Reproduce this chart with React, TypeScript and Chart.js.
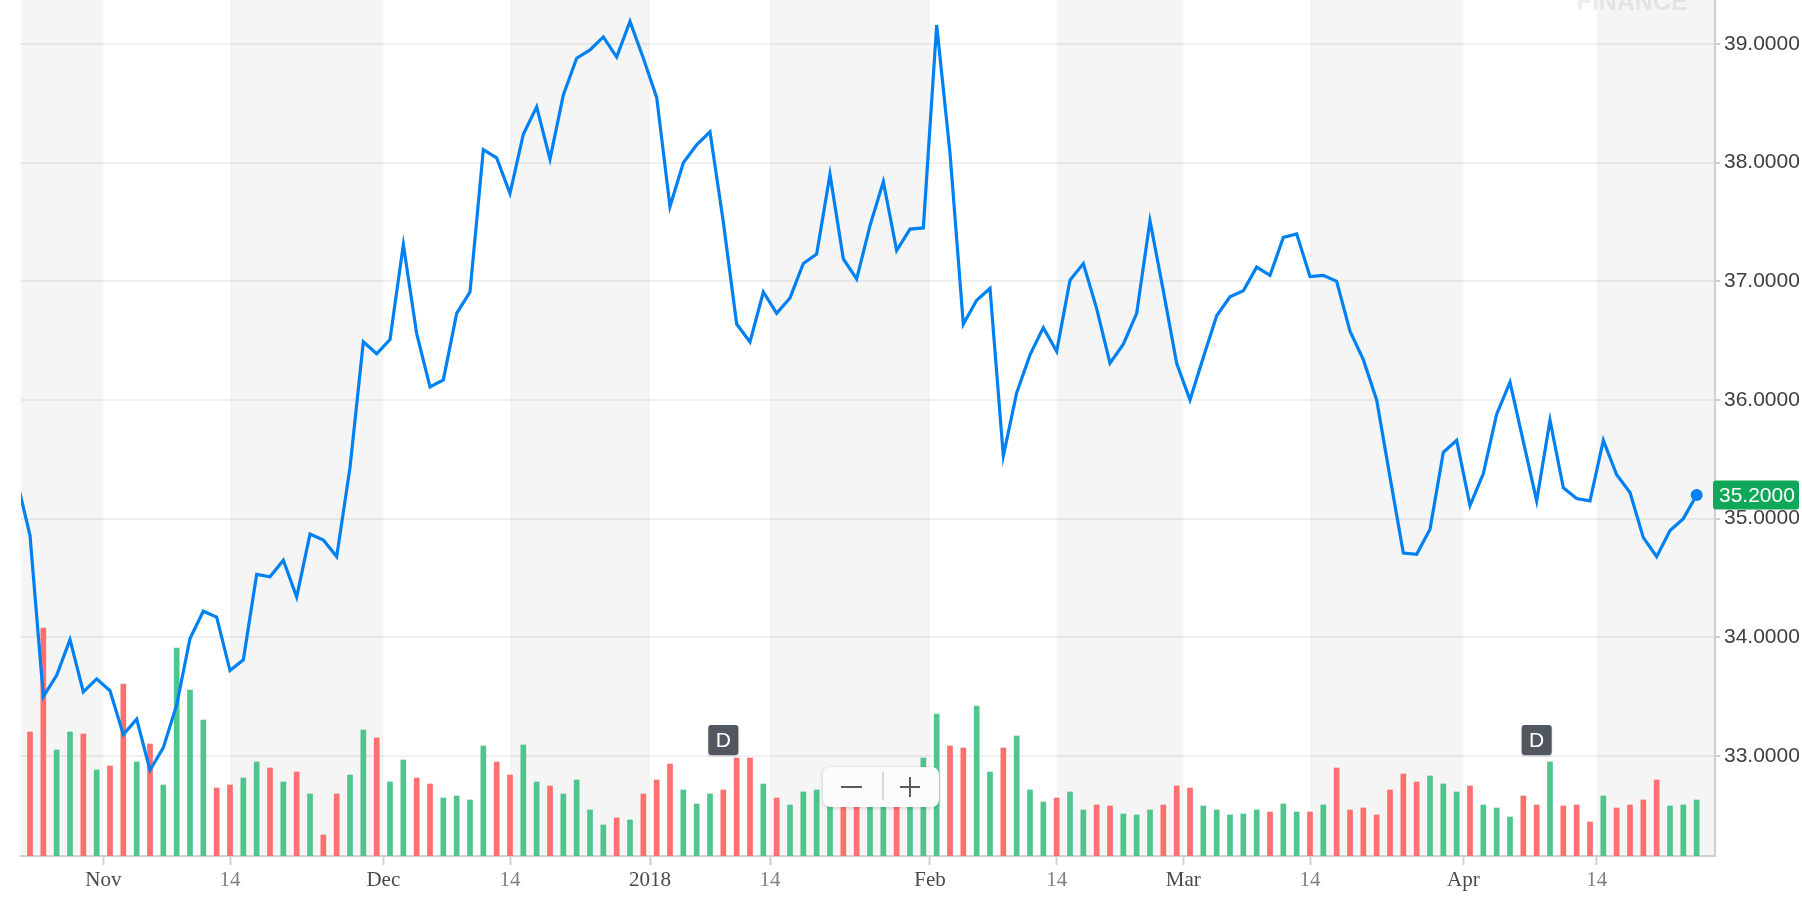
import React, { useEffect, useRef } from "react";
import { Chart, registerables } from "chart.js";

Chart.register(...registerables);

// ---------- data ----------
// close of the trading day just before the visible window (line enters from the left edge)
const priceBeforeStart = 35.33;

// daily closes, one per trading day (Oct 24 2017 .. Apr 25 2018)
const closePrices = [
  34.86, 33.5, 33.68, 33.98, 33.54, 33.65, 33.55, 33.18, 33.31, 32.88,
  33.07, 33.43, 33.99, 34.22, 34.17, 33.72, 33.81, 34.53, 34.51, 34.65,
  34.34, 34.87, 34.82, 34.68, 35.43, 36.49, 36.39, 36.51, 37.31, 36.56,
  36.11, 36.17, 36.73, 36.91, 38.11, 38.04, 37.74, 38.24, 38.47, 38.03,
  38.57, 38.88, 38.95, 39.06, 38.89, 39.19, 38.88, 38.55, 37.63, 38.0,
  38.15, 38.26, 37.5, 36.64, 36.49, 36.91, 36.73, 36.86, 37.15, 37.23,
  37.9, 37.19, 37.02, 37.47, 37.84, 37.26, 37.44, 37.45, 39.16, 38.08,
  36.64, 36.84, 36.94, 35.53, 36.06, 36.38, 36.61, 36.41, 37.01, 37.15,
  36.77, 36.31, 36.47, 36.73, 37.51, 36.92, 36.31, 36.0, 36.36, 36.71,
  36.87, 36.92, 37.12, 37.05, 37.37, 37.4, 37.04, 37.05, 37.0, 36.58,
  36.34, 36.0, 35.35, 34.71, 34.7, 34.91, 35.56, 35.66, 35.11, 35.38,
  35.88, 36.15, 35.65, 35.15, 35.83, 35.26, 35.17, 35.15, 35.66, 35.37,
  35.22, 34.84, 34.68, 34.9, 35.0, 35.2,
];

// daily volume (millions)
const volumes = [
  6.2, 11.4, 5.3, 6.2, 6.1, 4.3, 4.5, 8.6, 4.7, 5.6,
  3.55, 10.4, 8.3, 6.8, 3.4, 3.55, 3.9, 4.7, 4.4, 3.7,
  4.2, 3.1, 1.05, 3.1, 4.05, 6.3, 5.9, 3.7, 4.8, 3.9,
  3.6, 2.9, 3.0, 2.8, 5.5, 4.7, 4.05, 5.55, 3.7, 3.5,
  3.1, 3.8, 2.3, 1.55, 1.9, 1.8, 3.1, 3.8, 4.6, 3.3,
  2.6, 3.1, 3.3, 4.9, 4.9, 3.6, 2.9, 2.55, 3.2, 3.3,
  3.2, 2.9, 2.9, 3.0, 3.1, 3.0, 3.3, 4.9, 7.1, 5.5,
  5.4, 7.5, 4.2, 5.4, 6.0, 3.3, 2.7, 2.9, 3.2, 2.3,
  2.55, 2.5, 2.1, 2.05, 2.3, 2.55, 3.5, 3.4, 2.5, 2.3,
  2.05, 2.1, 2.3, 2.2, 2.6, 2.2, 2.2, 2.55, 4.4, 2.3,
  2.4, 2.05, 3.3, 4.1, 3.7, 4.0, 3.6, 3.2, 3.5, 2.55,
  2.4, 1.95, 3.0, 2.55, 4.7, 2.5, 2.55, 1.7, 3.0, 2.4,
  2.55, 2.8, 3.8, 2.5, 2.55, 2.8,
];

// x-axis ticks, in trading-day index units (month starts fall between two days)
const xTickPositions = [5.5, 15, 26.5, 36, 46.5, 55.5, 67.5, 77, 86.5, 96, 107.5, 117.5];
const xTickLabels = ["Nov", "14", "Dec", "14", "2018", "14", "Feb", "14", "Mar", "14", "Apr", "14"];

// price axis ticks
const yTickValues = [33, 34, 35, 36, 37, 38, 39];

// dividend markers (trading-day index)
const dividendDays = [52, 113];

// ---------- axis ranges ----------
const X_MIN = -0.675;
const X_MAX = 126.375;
const Y_MIN = 32.157;
const Y_MAX = 39.371;
const VOL_MAX = 42.8;

const BLUE = "#0081f2";
const GREEN = "#4cc68d";
const RED = "#ff6f6f";

const overlayPlugin = {
  id: "yahooOverlay",
  beforeDraw(chart: any) {
    const { ctx, chartArea, scales } = chart;
    const xs = scales.x;
    const bounds = [X_MIN, ...xTickPositions, X_MAX];
    ctx.save();
    for (let i = 0; i < bounds.length - 1; i += 2) {
      const a = xs.getPixelForValue(bounds[i]);
      const b = xs.getPixelForValue(bounds[i + 1]);
      ctx.fillStyle = "#f5f5f5";
      ctx.fillRect(a, chartArea.top, b - a, chartArea.bottom - chartArea.top);
    }
    // faint watermark at the top
    ctx.fillStyle = "rgba(0,0,0,0.07)";
    ctx.font = "bold 25px 'Liberation Sans', Arial, sans-serif";
    ctx.textAlign = "center";
    ctx.textBaseline = "alphabetic";
    ctx.fillText("FINANCE", 1632, 10);
    ctx.restore();
  },
  afterDatasetsDraw(chart: any) {
    const { ctx, chartArea, scales } = chart;
    const xs = scales.x;
    ctx.save();
    // dividend markers
    for (const d of dividendDays) {
      const cx = xs.getPixelForValue(d);
      const top = chartArea.bottom - 131;
      ctx.shadowColor = "rgba(0,0,0,0.25)";
      ctx.shadowBlur = 2;
      ctx.shadowOffsetY = 1;
      ctx.fillStyle = "#51575f";
      ctx.beginPath();
      ctx.roundRect(cx - 15, top, 30, 30, 3);
      ctx.fill();
      ctx.shadowColor = "transparent";
      ctx.fillStyle = "#ffffff";
      ctx.font = "21px 'Liberation Sans', Arial, sans-serif";
      ctx.textAlign = "center";
      ctx.textBaseline = "middle";
      ctx.fillText("D", cx, top + 16);
    }
    ctx.restore();
  },
  afterDraw(chart: any) {
    const { ctx, chartArea, scales } = chart;
    const ys = scales.y;
    ctx.save();
    // last price label
    const last = closePrices[closePrices.length - 1];
    const py = ys.getPixelForValue(last);
    ctx.fillStyle = "#10a858";
    ctx.beginPath();
    ctx.roundRect(chartArea.right - 2, py - 14.5, 86, 29, 3);
    ctx.fill();
    ctx.fillStyle = "#ffffff";
    ctx.font = "21px 'Liberation Sans', Arial, sans-serif";
    ctx.textAlign = "left";
    ctx.textBaseline = "middle";
    ctx.fillText(last.toFixed(4), chartArea.right + 4, py + 1);

    // zoom control
    const bx = 823;
    const by = 767;
    ctx.shadowColor = "rgba(0,0,0,0.18)";
    ctx.shadowBlur = 4;
    ctx.shadowOffsetY = 1;
    ctx.fillStyle = "#fbfbfb";
    ctx.beginPath();
    ctx.roundRect(bx, by, 116, 40, 7);
    ctx.fill();
    ctx.shadowColor = "transparent";
    ctx.strokeStyle = "#5a5a5a";
    ctx.lineWidth = 2;
    ctx.beginPath();
    ctx.moveTo(bx + 18, by + 20);
    ctx.lineTo(bx + 39, by + 20);
    ctx.moveTo(bx + 77, by + 20);
    ctx.lineTo(bx + 97, by + 20);
    ctx.moveTo(bx + 87, by + 10);
    ctx.lineTo(bx + 87, by + 30);
    ctx.stroke();
    ctx.strokeStyle = "#cccccc";
    ctx.lineWidth = 1.5;
    ctx.beginPath();
    ctx.moveTo(bx + 60, by + 5);
    ctx.lineTo(bx + 60, by + 33);
    ctx.stroke();
    ctx.restore();
  },
};

export default function App() {
  const ref = useRef<HTMLCanvasElement>(null);

  useEffect(() => {
    const canvas = ref.current;
    if (!canvas) return;

    const pricePoints = [
      { x: -1, y: priceBeforeStart },
      ...closePrices.map((y, i) => ({ x: i, y })),
    ];
    const volumePoints = volumes.map((y, i) => ({ x: i, y }));
    const barColors = closePrices.map((p, i) => {
      const prev = i === 0 ? priceBeforeStart : closePrices[i - 1];
      return p >= prev ? GREEN : RED;
    });
    const lastIdx = pricePoints.length - 1;

    const chart = new Chart(canvas, {
      type: "line",
      data: {
        datasets: [
          {
            type: "line",
            data: pricePoints,
            xAxisID: "x",
            yAxisID: "y",
            borderColor: BLUE,
            borderWidth: 3.2,
            backgroundColor: BLUE,
            pointRadius: (c: any) => (c.dataIndex === lastIdx ? 6 : 0),
            pointBackgroundColor: BLUE,
            pointBorderWidth: 0,
            tension: 0,
            fill: false,
            order: 0,
          } as any,
          {
            type: "bar",
            data: volumePoints,
            xAxisID: "x",
            yAxisID: "yv",
            backgroundColor: barColors,
            borderWidth: 0,
            barThickness: 5,
            order: 1,
          } as any,
        ],
      },
      options: {
        animation: false,
        responsive: false,
        events: [],
        layout: { autoPadding: false, padding: { left: 21, top: 0, right: 0, bottom: 0 } },
        plugins: { legend: { display: false }, tooltip: { enabled: false } },
        scales: {
          x: {
            type: "linear",
            position: "bottom",
            min: X_MIN,
            max: X_MAX,
            offset: false,
            grid: {
              offset: false,
              drawOnChartArea: false,
              drawTicks: true,
              tickLength: 9,
              tickColor: "#d0d0d0",
              tickWidth: 2,
            },
            border: { display: true, color: "#d0d0d0", width: 2 },
            afterBuildTicks: (s: any) => {
              s.ticks = xTickPositions.map((v) => ({ value: v }));
            },
            afterFit: (s: any) => {
              s.height = 58;
              s.paddingLeft = 0;
              s.paddingRight = 0;
            },
            ticks: {
              autoSkip: false,
              maxRotation: 0,
              minRotation: 0,
              padding: 3,
              font: { family: "'Liberation Serif', 'Times New Roman', serif", size: 21 },
              color: (c: any) => (xTickLabels[c.index] === "14" ? "#808080" : "#4a4a4a"),
              callback: (_v: any, i: number) => xTickLabels[i],
            },
          } as any,
          y: {
            type: "linear",
            position: "right",
            min: Y_MIN,
            max: Y_MAX,
            afterBuildTicks: (s: any) => {
              s.ticks = yTickValues.map((v) => ({ value: v }));
            },
            afterFit: (s: any) => {
              s.width = 87;
              s.paddingTop = 0;
              s.paddingBottom = 0;
            },
            grid: {
              color: "rgba(0,0,0,0.06)",
              lineWidth: 2,
              drawTicks: true,
              tickLength: 5,
              tickColor: "#d0d0d0",
              tickWidth: 2,
            },
            border: { display: true, color: "#d0d0d0", width: 2 },
            ticks: {
              padding: 4,
              font: { family: "'Liberation Sans', Arial, sans-serif", size: 21 },
              color: "#404040",
              callback: (v: any) => Number(v).toFixed(4),
            },
          } as any,
          yv: {
            type: "linear",
            display: false,
            min: 0,
            max: VOL_MAX,
          } as any,
        },
      },
      plugins: [overlayPlugin],
    });

    return () => chart.destroy();
  }, []);

  return (
    <div
      style={{
        position: "absolute",
        left: 0,
        top: 0,
        width: 1802,
        height: 914,
        background: "#ffffff",
        overflow: "hidden",
      }}
    >
      <canvas ref={ref} width={1802} height={914} style={{ width: 1802, height: 914, display: "block" }} />
    </div>
  );
}
